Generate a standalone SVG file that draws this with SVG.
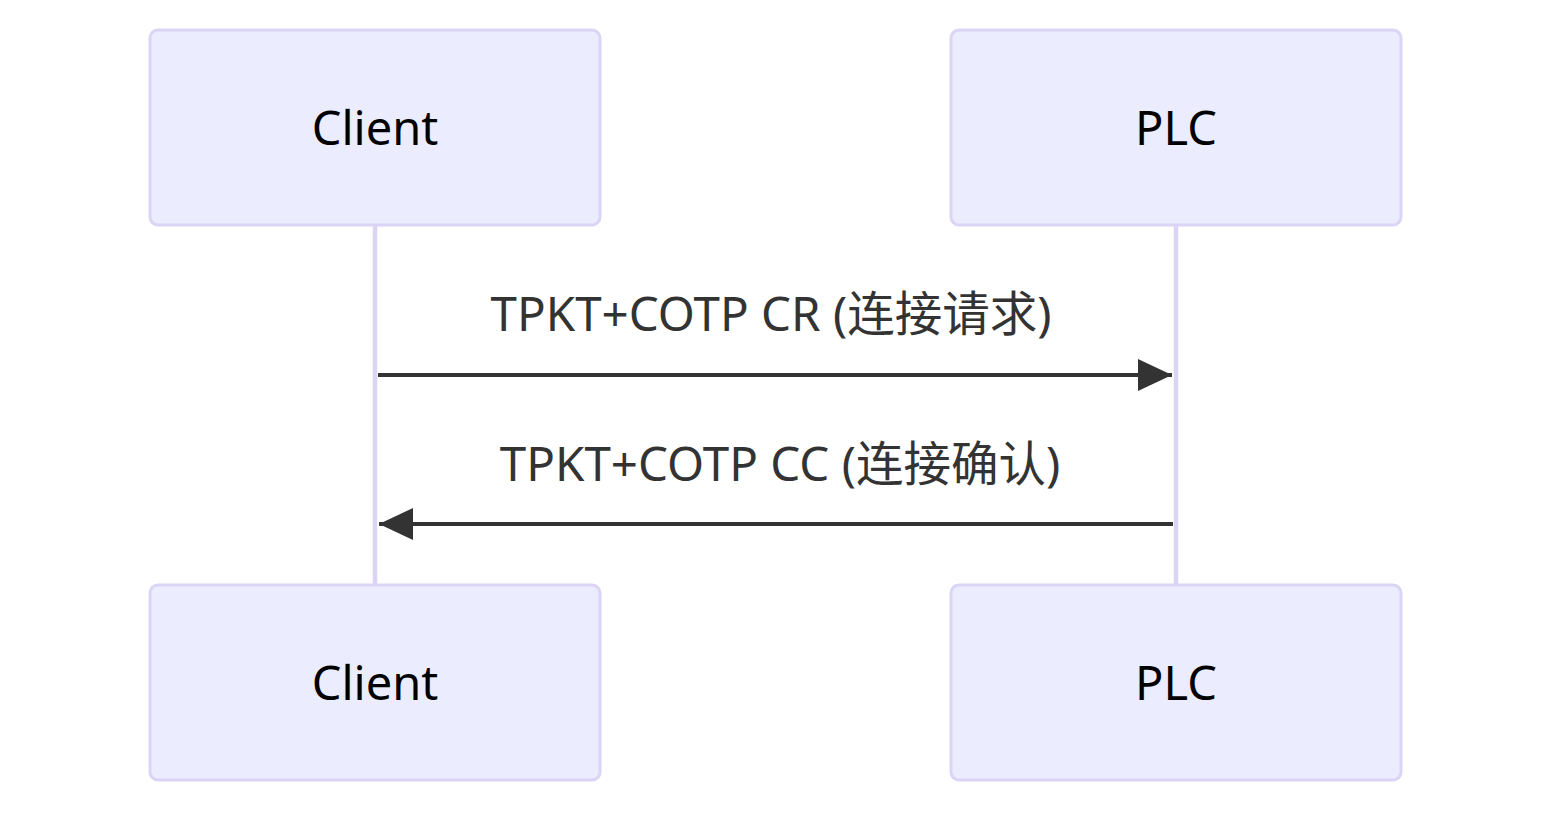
<svg xmlns="http://www.w3.org/2000/svg" width="1551" height="813" viewBox="0 0 1551 813">
<style>
.actor{fill:#ECECFF;stroke:#DCD4F5;stroke-width:3}
.atext{font-family:"Noto Sans","Open Sans","DejaVu Sans",sans-serif;font-size:47px;fill:#000;text-anchor:middle}
.life{stroke:#DCD4F5;stroke-width:4.5}
.msg{stroke:#333;stroke-width:4;fill:none}
.mtext{font-family:"Noto Sans","Noto Sans CJK SC",sans-serif;font-size:47.5px;fill:#333;text-anchor:middle}
</style>
<defs>
<marker id="ah" markerUnits="userSpaceOnUse" markerWidth="36" markerHeight="34" refX="34" refY="16" orient="auto">
<path d="M0,0 L34,16 L0,32 Z" fill="#333"/>
</marker>
</defs>
<g id="lifelines">
<line class="life" x1="375" y1="225" x2="375" y2="585"/>
<line class="life" x1="1176" y1="225" x2="1176" y2="585"/>
</g>
<g id="client-top"><rect class="actor" x="150" y="30" width="450" height="195" rx="8"/><text class="atext" x="375" y="145">Client</text></g>
<g id="plc-top"><rect class="actor" x="951" y="30" width="450" height="195" rx="8"/><text class="atext" x="1176" y="145">PLC</text></g>
<g id="client-bottom"><rect class="actor" x="150" y="585" width="450" height="195" rx="8"/><text class="atext" x="375" y="700">Client</text></g>
<g id="plc-bottom"><rect class="actor" x="951" y="585" width="450" height="195" rx="8"/><text class="atext" x="1176" y="700">PLC</text></g>
<g id="connectors">
<line class="msg" x1="378" y1="375" x2="1172" y2="375" marker-end="url(#ah)"/>
<text class="mtext" x="771" y="331">TPKT+COTP CR (连接请求)</text>
<line class="msg" x1="1173" y1="524" x2="379" y2="524" marker-end="url(#ah)"/>
<text class="mtext" x="780" y="481">TPKT+COTP CC (连接确认)</text>
</g>
</svg>
